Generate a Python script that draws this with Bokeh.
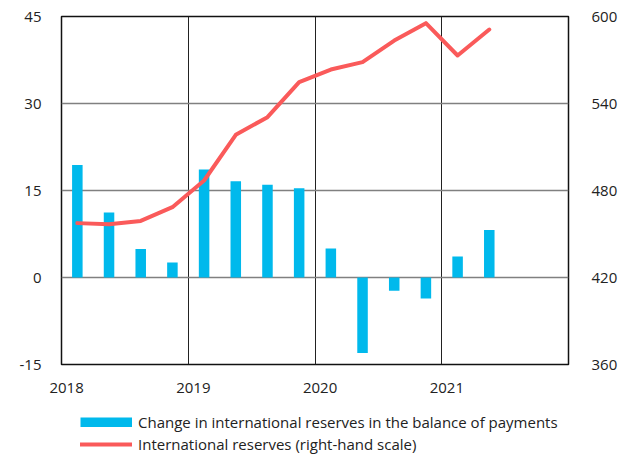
from bokeh.plotting import figure
from bokeh.layouts import column
from bokeh.models import (Range1d, LinearAxis, Legend, LegendItem, ColumnDataSource,
                          CustomJSTickFormatter)
from bokeh.embed import file_html
from bokeh.resources import INLINE

# ---- data ----
quarters = ["2018Q1", "2018Q2", "2018Q3", "2018Q4",
            "2019Q1", "2019Q2", "2019Q3", "2019Q4",
            "2020Q1", "2020Q2", "2020Q3", "2020Q4",
            "2021Q1", "2021Q2"]
bop_change = [19.4, 11.2, 4.9, 2.6, 18.6, 16.6, 16.0, 15.4,
              5.0, -13.0, -2.3, -3.6, 3.6, 8.2]
reserves = [457.5, 456.8, 459.0, 468.5, 486.9, 518.4, 530.6, 554.7,
            563.4, 568.5, 583.4, 595.4, 573.1, 591.0]
left_ticks = [-15, 0, 15, 30, 45]
right_ticks = [360, 420, 480, 540, 600]
year_ticks = [2018, 2019, 2020, 2021]
legend_labels = ["Change in international reserves in the balance of payments",
                 "International reserves (right-hand scale)"]

BLUE = "#00B9EC"
RED = "#FA5A5A"
TXT = "#222222"
FONT = "Open Sans"

# quarter mid-points on a fractional-year axis
xpos = [int(q[:4]) + (int(q[-1]) - 1) * 0.25 + 0.125 for q in quarters]
src = ColumnDataSource(dict(x=xpos, bop=bop_change, res=reserves))

p = figure(width=620, height=400,
           x_range=Range1d(2018, 2022), y_range=Range1d(-15, 45),
           output_backend="svg", toolbar_location=None,
           min_border_left=61, min_border_top=16, min_border_right=47,
           min_border_bottom=36)
p.background_fill_color = "white"
p.border_fill_color = "white"
p.outline_line_color = "#111111"
p.outline_line_width = 1.5

p.extra_y_ranges = {"res": Range1d(360, 600)}

bars = p.vbar(x="x", top="bop", bottom=0, width=0.083, source=src,
              fill_color=BLUE, line_color=None)
line = p.line(x="x", y="res", source=src, y_range_name="res",
              line_color=RED, line_width=4, line_join="round", line_cap="round")

# axes
p.xaxis.ticker = [y + 0.04 for y in year_ticks]   # labels sit slightly right of the year line
p.xaxis.formatter = CustomJSTickFormatter(code="return Math.floor(tick).toString();")
p.yaxis.ticker = left_ticks
p.yaxis.formatter = CustomJSTickFormatter(code="return tick.toString();")
raxis = LinearAxis(y_range_name="res", ticker=right_ticks,
                   formatter=CustomJSTickFormatter(code="return tick.toString();"))
p.add_layout(raxis, "right")

for ax in [p.xaxis[0], p.yaxis[0], raxis]:
    ax.axis_line_color = None
    ax.major_tick_line_color = None
    ax.minor_tick_line_color = None
    ax.major_label_text_font = FONT
    ax.major_label_text_font_size = "15px"
    ax.major_label_text_color = TXT
p.xaxis.major_label_standoff = 12
p.yaxis[0].major_label_standoff = 14
raxis.major_label_standoff = 17

# grids
p.xgrid.ticker = year_ticks
p.xgrid.grid_line_color = "#222222"
p.xgrid.grid_line_width = 1
p.ygrid.ticker = left_ticks
p.ygrid.grid_line_color = "#808080"
p.ygrid.grid_line_width = 1.5

# ---- legend strip (separate figure so the legend is not clipped) ----
lg = figure(width=620, height=54, x_range=Range1d(0, 1), y_range=Range1d(0, 1),
            output_backend="svg", toolbar_location=None,
            x_axis_type=None, y_axis_type=None,
            min_border_left=61, min_border_right=47, min_border_top=0, min_border_bottom=0)
lg.outline_line_color = None
lg.xgrid.visible = False
lg.ygrid.visible = False
# swatch renderers: their points lie outside the strip's ranges, so only the legend shows them
lg_bar = lg.line(x=[-5, -4], y=[-5, -5], line_color=BLUE, line_width=10, line_cap="butt")
lg_line = lg.line(x=[-5, -4], y=[-5, -5], line_color=RED, line_width=4, line_cap="round")

legend = Legend(items=[LegendItem(label=legend_labels[0], renderers=[lg_bar]),
                       LegendItem(label=legend_labels[1], renderers=[lg_line])],
                location=(19, 0), orientation="vertical",
                glyph_width=52, glyph_height=10, label_standoff=6,
                spacing=2, padding=0, margin=0,
                border_line_color=None, background_fill_alpha=0,
                label_text_font=FONT, label_text_font_size="15px",
                label_text_color=TXT, label_height=20)
lg.add_layout(legend)

open("out.html", "w").write(file_html(column(p, lg), INLINE))
